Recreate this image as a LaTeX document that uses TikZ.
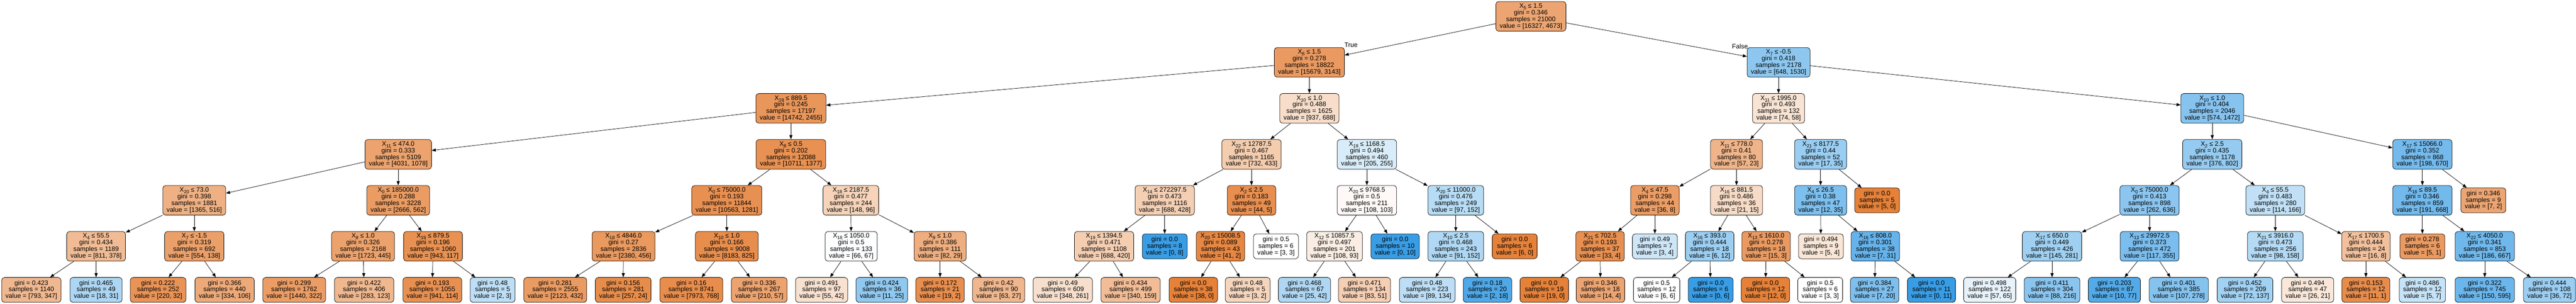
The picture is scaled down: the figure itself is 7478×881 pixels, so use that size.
\documentclass[tikz,border=0pt]{standalone}
\usepackage{fontspec}
\newfontfamily\dtfont{Liberation Sans}
\usetikzlibrary{arrows.meta}
\definecolor{dtorange}{RGB}{229,129,57}
\definecolor{dtblue}{RGB}{57,157,229}
\newcommand\dtsub[1]{\raisebox{-4.5pt}{\fontsize{13.5}{13.5}\selectfont #1}}
\tikzset{
  val/.code 2 args={%
    \ifnum#1<#2\relax
      \pgfmathsetmacro\dtalpha{100*(1-#1/#2)}%
      \pgfkeysalso{fill/.expanded={dtblue!\dtalpha!white}}%
    \else
      \pgfmathsetmacro\dtalpha{100*(1-#2/#1)}%
      \pgfkeysalso{fill/.expanded={dtorange!\dtalpha!white}}%
    \fi},
  dtnode/.style={draw=black, line width=1.1pt, rounded corners=8pt, align=center,
    inner xsep=11pt, inner ysep=0pt, minimum height=86pt,
    font=\dtfont\fontsize{18.8}{19.2}\selectfont},
  dtleaf/.style={dtnode, minimum height=72pt},
  dtedge/.style={-{Triangle[length=12pt,width=9pt]}, line width=1.1pt},
  dtlabel/.style={font=\dtfont\fontsize{18.8}{19.2}\selectfont, inner sep=0pt}
}
\newcommand\DTin[9]{\node[dtnode, val={#8}{#9}] (#1) at (#2,#3)
  {X\dtsub{#4} ≤ #5\\gini = #6\\samples = #7\\value = [#8, #9]};}
\newcommand\DTlf[7]{\node[dtleaf, val={#6}{#7}] (#1) at (#2,#3)
  {gini = #4\\samples = #5\\value = [#6, #7]};}
\begin{document}
\begin{tikzpicture}[x=1pt,y=-1pt]
\useasboundingbox (0,0) rectangle (7478,881);
\fill[white] (0,0) rectangle (7478,881);
% level 0
\DTin{n0}{4444}{47.5}{5}{1.5}{0.346}{21000}{16327}{4673}
% level 1
\DTin{n1}{3801}{181}{6}{1.5}{0.278}{18822}{15679}{3143}
\DTin{n2}{5163}{181}{7}{-0.5}{0.418}{2178}{648}{1530}
% level 2
\DTin{n3}{2296}{314.5}{19}{889.5}{0.245}{17197}{14742}{2455}
\DTin{n4}{3801}{314.5}{10}{1.0}{0.488}{1625}{937}{688}
\DTin{n5}{5163}{314.5}{11}{1995.0}{0.493}{132}{74}{58}
\DTin{n6}{6422}{314.5}{10}{1.0}{0.404}{2046}{574}{1472}
% level 3
\DTin{n7}{1156}{448}{11}{474.0}{0.333}{5109}{4031}{1078}
\DTin{n8}{2296}{448}{8}{0.5}{0.202}{12088}{10711}{1377}
\DTin{n9}{3633}{448}{22}{12787.5}{0.467}{1165}{732}{433}
\DTin{n10}{3968}{448}{19}{1168.5}{0.494}{460}{205}{255}
\DTin{n11}{5041}{448}{11}{778.0}{0.41}{80}{57}{23}
\DTin{n12}{5285}{448}{21}{8177.5}{0.44}{52}{17}{35}
\DTin{n13}{6422}{448}{2}{2.5}{0.435}{1178}{376}{802}
\DTin{n14}{7032}{448}{17}{15066.0}{0.352}{868}{198}{670}
% level 4
\DTin{n15}{564}{581.5}{20}{73.0}{0.398}{1881}{1365}{516}
\DTin{n16}{1156}{581.5}{0}{185000.0}{0.288}{3228}{2666}{562}
\DTin{n17}{2110}{581.5}{0}{75000.0}{0.193}{11844}{10563}{1281}
\DTin{n18}{2470}{581.5}{18}{2187.5}{0.477}{244}{148}{96}
\DTin{n19}{3381}{581.5}{14}{272297.5}{0.473}{1116}{688}{428}
\DTin{n20}{3633}{581.5}{2}{2.5}{0.183}{49}{44}{5}
\DTin{n21}{3968}{581.5}{20}{9768.5}{0.5}{211}{108}{103}
\DTin{n22}{4226}{581.5}{20}{11000.0}{0.476}{249}{97}{152}
\DTin{n23}{4804}{581.5}{4}{47.5}{0.298}{44}{36}{8}
\DTin{n24}{5041}{581.5}{16}{881.5}{0.486}{36}{21}{15}
\DTin{n25}{5285}{581.5}{4}{26.5}{0.38}{47}{12}{35}
\DTlf{n26}{5449}{581.5}{0.0}{5}{5}{0}
\DTin{n27}{6240}{581.5}{0}{75000.0}{0.413}{898}{262}{636}
\DTin{n28}{6605}{581.5}{4}{55.5}{0.483}{280}{114}{166}
\DTin{n29}{7032}{581.5}{16}{89.5}{0.346}{859}{191}{668}
\DTlf{n30}{7209}{581.5}{0.346}{9}{7}{2}
% level 5
\DTin{n31}{279}{715}{4}{55.5}{0.434}{1189}{811}{378}
\DTin{n32}{564}{715}{7}{-1.5}{0.319}{692}{554}{138}
\DTin{n33}{1054}{715}{8}{1.0}{0.326}{2168}{1723}{445}
\DTin{n34}{1257}{715}{19}{879.5}{0.196}{1060}{943}{117}
\DTin{n35}{1810}{715}{18}{4846.0}{0.27}{2836}{2380}{456}
\DTin{n36}{2110}{715}{10}{1.0}{0.166}{9008}{8183}{825}
\DTin{n37}{2471}{715}{18}{1050.0}{0.5}{133}{66}{67}
\DTin{n38}{2729}{715}{9}{1.0}{0.386}{111}{82}{29}
\DTin{n39}{3205}{715}{19}{1394.5}{0.471}{1108}{688}{420}
\DTlf{n40}{3381}{715}{0.0}{8}{0}{8}
\DTin{n41}{3543}{715}{20}{15008.5}{0.089}{43}{41}{2}
\DTlf{n42}{3704}{715}{0.5}{6}{3}{3}
\DTin{n43}{3874}{715}{12}{10857.5}{0.497}{201}{108}{93}
\DTlf{n44}{4050}{715}{0.0}{10}{0}{10}
\DTin{n45}{4226}{715}{10}{2.5}{0.468}{243}{91}{152}
\DTlf{n46}{4397}{715}{0.0}{6}{6}{0}
\DTin{n47}{4645}{715}{21}{702.5}{0.193}{37}{33}{4}
\DTlf{n48}{4804}{715}{0.49}{7}{3}{4}
\DTin{n49}{4963}{715}{16}{393.0}{0.444}{18}{6}{12}
\DTin{n50}{5127}{715}{13}{1610.0}{0.278}{18}{15}{3}
\DTlf{n51}{5286}{715}{0.494}{9}{5}{4}
\DTin{n52}{5444}{715}{16}{808.0}{0.301}{38}{7}{31}
\DTin{n53}{5957}{715}{17}{650.0}{0.449}{426}{145}{281}
\DTin{n54}{6240}{715}{13}{29972.5}{0.373}{472}{117}{355}
\DTin{n55}{6605}{715}{21}{3916.0}{0.473}{256}{98}{158}
\DTin{n56}{6868}{715}{17}{1700.5}{0.444}{24}{16}{8}
\DTlf{n57}{7032}{715}{0.278}{6}{5}{1}
\DTin{n58}{7213}{715}{22}{4050.0}{0.341}{853}{186}{667}
% level 6
\DTlf{n31a}{91}{841.5}{0.423}{1140}{793}{347}
\DTlf{n31b}{279}{841.5}{0.465}{49}{18}{31}
\DTlf{n32a}{459}{841.5}{0.222}{252}{220}{32}
\DTlf{n32b}{652}{841.5}{0.366}{440}{334}{106}
\DTlf{n33a}{854}{841.5}{0.299}{1762}{1440}{322}
\DTlf{n33b}{1057}{841.5}{0.422}{406}{283}{123}
\DTlf{n34a}{1255}{841.5}{0.193}{1055}{941}{114}
\DTlf{n34b}{1430}{841.5}{0.48}{5}{2}{3}
\DTlf{n35a}{1612}{841.5}{0.281}{2555}{2123}{432}
\DTlf{n35b}{1809}{841.5}{0.156}{281}{257}{24}
\DTlf{n36a}{2007}{841.5}{0.16}{8741}{7973}{768}
\DTlf{n36b}{2204}{841.5}{0.336}{267}{210}{57}
\DTlf{n37a}{2385}{841.5}{0.491}{97}{55}{42}
\DTlf{n37b}{2560}{841.5}{0.424}{36}{11}{25}
\DTlf{n38a}{2729}{841.5}{0.172}{21}{19}{2}
\DTlf{n38b}{2899}{841.5}{0.42}{90}{63}{27}
\DTlf{n39a}{3085}{841.5}{0.49}{609}{348}{261}
\DTlf{n39b}{3282}{841.5}{0.434}{499}{340}{159}
\DTlf{n41a}{3464}{841.5}{0.0}{38}{38}{0}
\DTlf{n41b}{3622}{841.5}{0.48}{5}{3}{2}
\DTlf{n43a}{3787}{841.5}{0.468}{67}{25}{42}
\DTlf{n43b}{3961}{841.5}{0.471}{134}{83}{51}
\DTlf{n45a}{4143}{841.5}{0.48}{223}{89}{134}
\DTlf{n45b}{4318}{841.5}{0.18}{20}{2}{18}
\DTlf{n47a}{4483}{841.5}{0.0}{19}{19}{0}
\DTlf{n47b}{4646}{841.5}{0.346}{18}{14}{4}
\DTlf{n49a}{4809}{841.5}{0.5}{12}{6}{6}
\DTlf{n49b}{4966}{841.5}{0.0}{6}{0}{6}
\DTlf{n50a}{5125}{841.5}{0.0}{12}{12}{0}
\DTlf{n50b}{5284}{841.5}{0.5}{6}{3}{3}
\DTlf{n52a}{5442}{841.5}{0.384}{27}{7}{20}
\DTlf{n52b}{5607}{841.5}{0.0}{11}{0}{11}
\DTlf{n53a}{5776}{841.5}{0.498}{122}{57}{65}
\DTlf{n53b}{5957}{841.5}{0.411}{304}{88}{216}
\DTlf{n54a}{6138}{841.5}{0.203}{87}{10}{77}
\DTlf{n54b}{6325}{841.5}{0.401}{385}{107}{278}
\DTlf{n55a}{6517}{841.5}{0.452}{209}{72}{137}
\DTlf{n55b}{6699}{841.5}{0.494}{47}{26}{21}
\DTlf{n56a}{6868}{841.5}{0.153}{12}{11}{1}
\DTlf{n56b}{7032}{841.5}{0.486}{12}{5}{7}
\DTlf{n58a}{7213}{841.5}{0.322}{745}{150}{595}
\DTlf{n58b}{7401}{841.5}{0.444}{108}{36}{72}
% edges
\foreach \p/\c in {n0/n1,n0/n2,n1/n3,n1/n4,n2/n5,n2/n6,
  n3/n7,n3/n8,n4/n9,n4/n10,n5/n11,n5/n12,n6/n13,n6/n14,
  n7/n15,n7/n16,n8/n17,n8/n18,n9/n19,n9/n20,n10/n21,n10/n22,
  n11/n23,n11/n24,n12/n25,n12/n26,n13/n27,n13/n28,n14/n29,n14/n30,
  n15/n31,n15/n32,n16/n33,n16/n34,n17/n35,n17/n36,n18/n37,n18/n38,
  n19/n39,n19/n40,n20/n41,n20/n42,n21/n43,n21/n44,n22/n45,n22/n46,
  n23/n47,n23/n48,n24/n49,n24/n50,n25/n51,n25/n52,n27/n53,n27/n54,
  n28/n55,n28/n56,n29/n57,n29/n58,
  n31/n31a,n31/n31b,n32/n32a,n32/n32b,n33/n33a,n33/n33b,n34/n34a,n34/n34b,
  n35/n35a,n35/n35b,n36/n36a,n36/n36b,n37/n37a,n37/n37b,n38/n38a,n38/n38b,
  n39/n39a,n39/n39b,n41/n41a,n41/n41b,n43/n43a,n43/n43b,n45/n45a,n45/n45b,
  n47/n47a,n47/n47b,n49/n49a,n49/n49b,n50/n50a,n50/n50b,n52/n52a,n52/n52b,
  n53/n53a,n53/n53b,n54/n54a,n54/n54b,n55/n55a,n55/n55b,n56/n56a,n56/n56b,
  n58/n58a,n58/n58b}
  \draw[dtedge] (\p) -- (\c);
\node[dtlabel] (truelab) at (3922,131) {True};
\node[dtlabel] (falselab) at (5051,134) {False};
\end{tikzpicture}
\end{document}
